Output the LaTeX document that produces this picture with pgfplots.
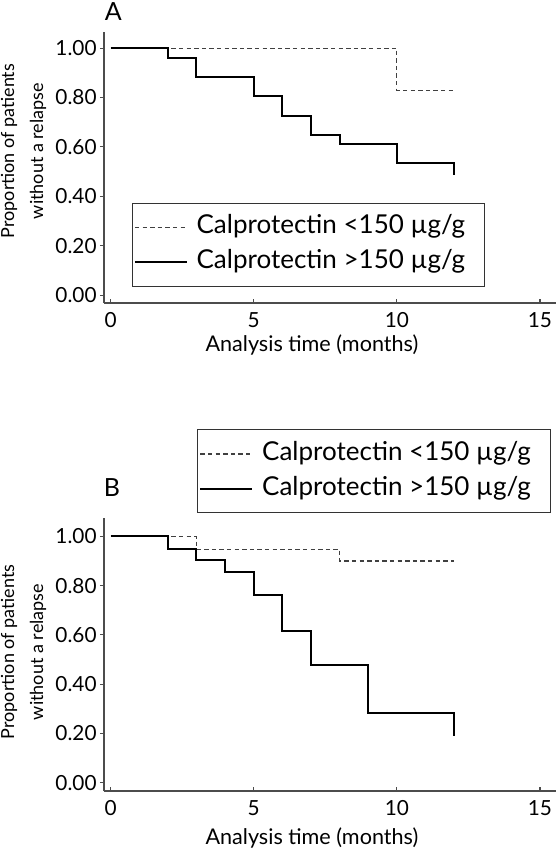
\documentclass[border=0pt]{standalone}
\usepackage{fontspec}
\setmainfont{Lato}
\usepackage{pgfplots}
\pgfplotsset{compat=1.18}

\pgfplotsset{
 km/.style={
  width=226pt, scale only axis, clip=false,
  xmin=-0.23, xmax=15.56,
  axis x line=bottom, axis y line=left,
  axis line style={-, black!70, line width=0.55pt},
  xtick={0,5,10,15}, ytick={0,0.2,0.4,0.6,0.8,1},
  xtick align=inside, ytick align=outside,
  major tick length=2pt,
  tick style={black!70, line width=0.55pt},
  yticklabel style={/pgf/number format/fixed, /pgf/number format/fixed zerofill, /pgf/number format/precision=2, inner xsep=1.5pt},
  xticklabel style={inner ysep=4.5pt},
  /pgf/number format/assume math mode=true,
  tick label style={font=\fontsize{10.4}{12}\selectfont},
  xlabel={Analysis time (months)},
  ylabel={Proportion of patients\\without a relapse},
  legend cell align=left,
  legend style={draw=black!80, line width=0.5pt, font=\fontsize{13}{14}\selectfont,
     inner xsep=0.85pt, inner ysep=3.25pt,
     nodes={inner xsep=2.85pt, inner ysep=2.6pt, text height=9.3pt, text depth=3pt}},
  legend image code/.code={\draw[##1] (0pt,0pt) -- (26pt,0pt);},
 },
 dsh/.style={const plot, black!75, line width=0.6pt, dash pattern=on 2.2pt off 1.6pt},
 sld/.style={const plot, black, line width=1pt},
}

\begin{document}
\begin{tikzpicture}
\useasboundingbox (0pt,0pt) rectangle (278pt,-426.5pt);
% Panel A
\begin{axis}[km, at={(52pt,-151.5pt)}, anchor=south west,
  height=135.7pt, ymin=-0.032, ymax=1.067,
  xlabel style={font=\fontsize{10.8}{13}\selectfont, at={(axis description cs:0.46,0)}, anchor=base, yshift=-24pt},
  ylabel style={align=center, font=\fontsize{9}{14.5}\selectfont, at={(axis description cs:-0.178,0.56)}, anchor=center},
  legend style={at={(0.0613,0.3697)}, anchor=north west}]
\addplot[dsh] coordinates {(0,1) (10,0.83) (12,0.83)};
\addlegendentry{\kern1.5pt Calprotectin <150 µg/g\rule{6pt}{0pt}}
\addplot[sld] coordinates {(0,1) (2,0.96) (3,0.885) (5,0.805) (6,0.725) (7,0.65) (8,0.612) (10,0.535) (12,0.535) (12,0.487)};
\addlegendentry{\kern1.5pt Calprotectin >150 µg/g\rule{6pt}{0pt}}
\node[font=\fontsize{12.5}{14}\selectfont] at (rel axis cs:0.0206,1.0726) {A};
\end{axis}
% Panel B
\begin{axis}[km, at={(52pt,-395.5pt)}, anchor=south west,
  height=136.3pt, ymin=-0.034, ymax=1.073,
  xlabel style={font=\fontsize{10.8}{13}\selectfont, at={(axis description cs:0.46,0)}, anchor=base, yshift=-26.5pt},
  ylabel style={align=center, font=\fontsize{9}{14.5}\selectfont, at={(axis description cs:-0.178,0.51)}, anchor=center},
  legend style={at={(0.2064,1.3264)}, anchor=north west}]
\addplot[dsh] coordinates {(0,1) (3,0.948) (8,0.90) (12,0.90)};
\addlegendentry{\kern1.5pt Calprotectin <150 µg/g\rule{6pt}{0pt}}
\addplot[sld] coordinates {(0,1) (2,0.95) (3,0.906) (4,0.855) (5,0.76) (6,0.617) (7,0.476) (9,0.281) (12,0.281) (12,0.19)};
\addlegendentry{\kern1.5pt Calprotectin >150 µg/g\rule{6pt}{0pt}}
\node[font=\fontsize{12.5}{14}\selectfont] at (rel axis cs:0.0177,1.115) {B};
\end{axis}
\end{tikzpicture}
\end{document}
